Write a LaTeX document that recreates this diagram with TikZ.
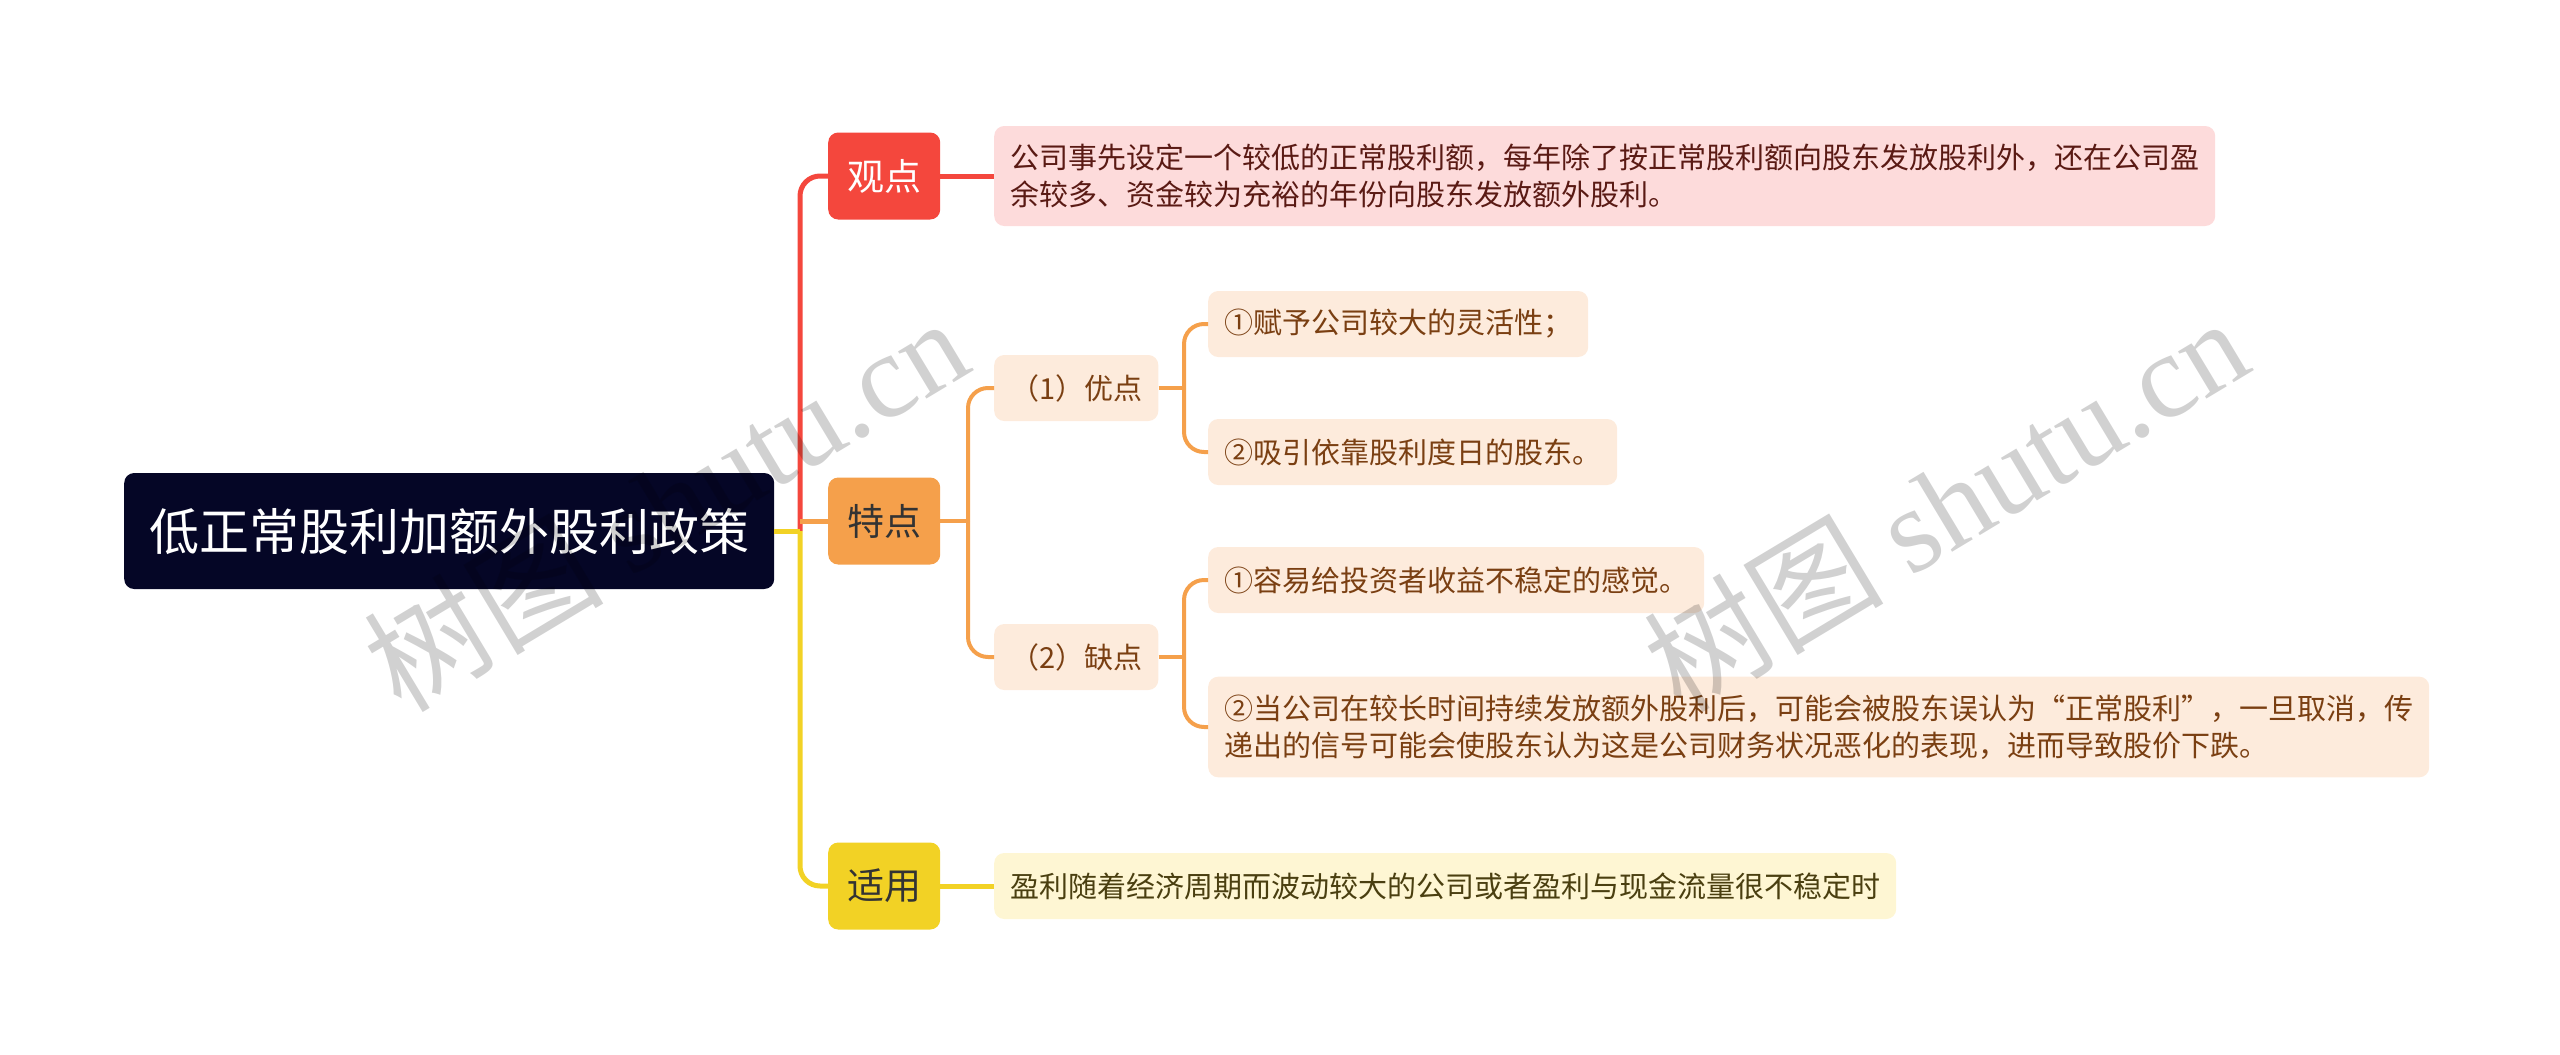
\documentclass[tikz,border=0pt]{standalone}
\usepackage{fontspec}
\setmainfont{Noto Sans CJK SC}
\newfontfamily\wmfont{Liberation Serif}
\usepackage{tikz}

\definecolor{rootbg}{HTML}{050626}
\definecolor{redA}{HTML}{F4473D}
\definecolor{orgB}{HTML}{F5A04B}
\definecolor{yelC}{HTML}{F2D225}
\definecolor{pinkbg}{HTML}{FDDBDB}
\definecolor{orgbg}{HTML}{FDEBDC}
\definecolor{yelbg}{HTML}{FEF6D3}
\definecolor{redtxt}{HTML}{5A1A14}
\definecolor{orgtxt}{HTML}{7A3F12}
\definecolor{yeltxt}{HTML}{4A3F10}

\begin{document}
\begin{tikzpicture}[x=1pt, y=-1pt,
	root/.style={anchor=west, fill=rootbg, text=white, rounded corners=10pt,
		minimum width=650pt, minimum height=116pt, font=\fontsize{50}{60}\selectfont},
	head/.style={anchor=west, rounded corners=10pt, minimum width=112pt,
		minimum height=87pt, font=\fontsize{37}{44}\selectfont},
	leaf/.style={anchor=west, rounded corners=10pt, inner xsep=16pt, inner ysep=18pt,
		minimum height=66pt, align=left, font=\fontsize{29}{37}\selectfont},
	link/.style={line width=5pt, rounded corners=20pt},
	sublink/.style={line width=4pt, rounded corners=20pt, draw=orgB},
	wm/.style={text=black, opacity=0.18, rotate=31, font=\fontsize{120}{130}\selectfont}]
				\useasboundingbox (0,0) rectangle (2560,1055);
				% main nodes
				\node[root] (R) at (124,531) {低正常股利加额外股利政策};
				\node[head, fill=redA, text=white] (A) at (828,176) {观点};
				\node[head, fill=orgB, text=black!80] (B) at (828,521) {特点};
				\node[head, fill=yelC, text=black!80] (C) at (828,886) {适用};
				\node[leaf, fill=pinkbg, text=redtxt] (A1) at (994,176) {公司事先设定一个较低的正常股利额，每年除了按正常股利额向股东发放股利外，还在公司盈\\余较多、资金较为充裕的年份向股东发放额外股利。};
				\node[leaf, fill=orgbg, text=orgtxt, minimum width=162pt] (B1) at (994,388) {（1）优点};
				\node[leaf, fill=orgbg, text=orgtxt, minimum width=162pt] (B2) at (994,657) {（2）缺点};
				\node[leaf, fill=orgbg, text=orgtxt] (B11) at (1208,324) {①赋予公司较大的灵活性；};
				\node[leaf, fill=orgbg, text=orgtxt] (B12) at (1208,452) {②吸引依靠股利度日的股东。};
				\node[leaf, fill=orgbg, text=orgtxt] (B21) at (1208,580) {①容易给投资者收益不稳定的感觉。};
				\node[leaf, fill=orgbg, text=orgtxt] (B22) at (1208,727) {②当公司在较长时间持续发放额外股利后，可能会被股东误认为“正常股利”，一旦取消，传\\递出的信号可能会使股东认为这是公司财务状况恶化的表现，进而导致股价下跌。};
				\node[leaf, fill=yelbg, text=yeltxt] (C1) at (994,886) {盈利随着经济周期而波动较大的公司或者盈利与现金流量很不稳定时};
				% junctions
				\coordinate (T) at (800,531);
				\coordinate (TB) at (800,521);
				\coordinate (Bj) at (968,521);
				\coordinate (B1j) at (1184,388);
				\coordinate (B2j) at (1184,657);
				% connectors
				\draw[link, draw=redA] (T) |- (A.west);
				\draw[link, draw=redA] (A.east) -- (A1.west);
				\draw[link, draw=yelC] (R.east) -- (T);
				\draw[link, draw=yelC] (T) |- (C.west);
				\draw[link, draw=yelC] (C.east) -- (C1.west);
				\draw[link, draw=orgB] (TB) -- (B.west);
				\draw[sublink] (B.east) -- (Bj);
				\draw[sublink] (Bj) |- (B1.west);
				\draw[sublink] (Bj) |- (B2.west);
				\draw[sublink] (B1.east) -- (B1j);
				\draw[sublink] (B1j) |- (B11.west);
				\draw[sublink] (B1j) |- (B12.west);
				\draw[sublink] (B2.east) -- (B2j);
				\draw[sublink] (B2j) |- (B21.west);
				\draw[sublink] (B2j) |- (B22.west);
				% watermarks
				\node[wm] (W1) at (665,503) {树图 {\wmfont shutu.cn}};
				\node[wm] (W2) at (1945,503) {树图 {\wmfont shutu.cn}};
			\end{tikzpicture}
\end{document}
